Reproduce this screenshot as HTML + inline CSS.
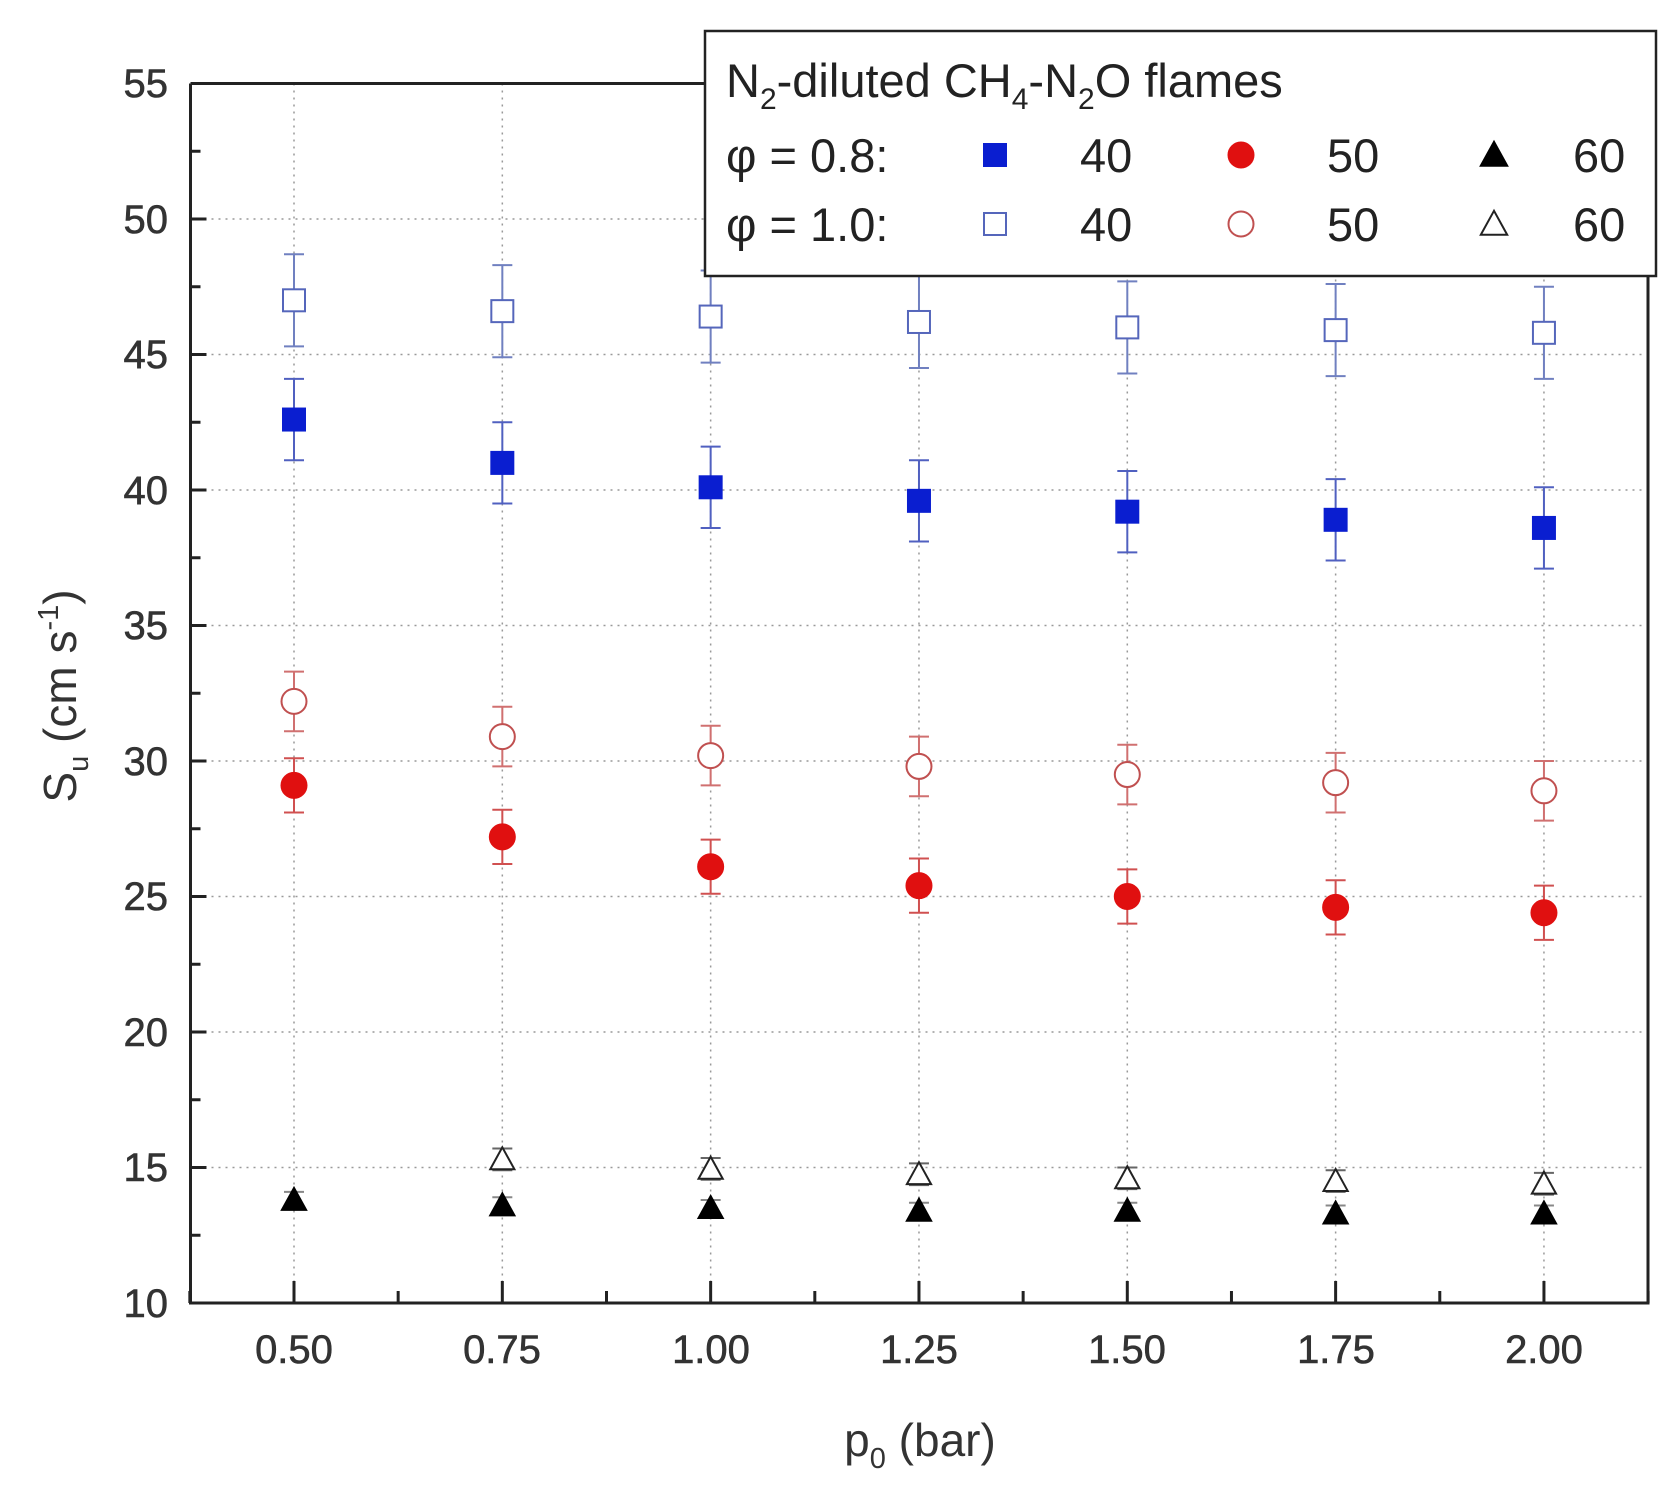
<!DOCTYPE html>
<html><head><meta charset="utf-8"><style>
html,body{margin:0;padding:0;background:#fff;}
svg{display:block;font-family:"Liberation Sans",Arial,sans-serif;}
</style></head><body>
<svg id="s" width="1678" height="1500" viewBox="0 0 1678 1500" xmlns="http://www.w3.org/2000/svg">
<rect width="1678" height="1500" fill="#fff"/>
<g id="grid" stroke="#999" stroke-width="1.5" stroke-dasharray="2,5"></g>
<g id="axes"></g>
<g id="data"></g>
<g font-size="40" fill="#333" stroke="#333" stroke-width="0.6" text-anchor="end">
<text x="168" y="97">55</text><text x="168" y="233">50</text><text x="168" y="368">45</text>
<text x="168" y="504">40</text><text x="168" y="639">35</text><text x="168" y="775">30</text>
<text x="168" y="910">25</text><text x="168" y="1046">20</text><text x="168" y="1181">15</text>
<text x="168" y="1317">10</text>
</g>
<g font-size="40" fill="#333" stroke="#333" stroke-width="0.6" text-anchor="middle">
<text x="294" y="1363">0.50</text><text x="502" y="1363">0.75</text><text x="711" y="1363">1.00</text>
<text x="919" y="1363">1.25</text><text x="1127" y="1363">1.50</text><text x="1336" y="1363">1.75</text>
<text x="1544" y="1363">2.00</text>
</g>
<text x="920" y="1456" font-size="46" fill="#333" text-anchor="middle">p<tspan font-size="29" dy="12">0</tspan><tspan dy="-12"> (bar)</tspan></text>
<text transform="translate(76,696) rotate(-90)" font-size="46" fill="#333" text-anchor="middle">S<tspan font-size="29" dy="12">u</tspan><tspan dy="-12"> (cm s</tspan><tspan font-size="29" dy="-18">-1</tspan><tspan dy="18">)</tspan></text>
<rect x="705" y="31" width="951" height="245" fill="#fff" stroke="#222" stroke-width="2.5"/>
<g font-size="47" fill="#222">
<text x="726" y="97">N<tspan font-size="30" dy="12">2</tspan><tspan dy="-12">-diluted CH</tspan><tspan font-size="30" dy="12">4</tspan><tspan dy="-12">-N</tspan><tspan font-size="30" dy="12">2</tspan><tspan dy="-12">O flames</tspan></text>
<text x="726" y="172">φ = 0.8:</text>
<text x="726" y="241">φ = 1.0:</text>
<text x="1080" y="172">40</text><text x="1327" y="172">50</text><text x="1573" y="172">60</text>
<text x="1080" y="241">40</text><text x="1327" y="241">50</text><text x="1573" y="241">60</text>
</g>
<g id="leg"></g>
</svg>
<script>
const NS="http://www.w3.org/2000/svg";
const X=v=>294+(v-0.5)*833.3, Y=v=>1303-(v-10)*27.1;
function el(p,t,a){const e=document.createElementNS(NS,t);for(const k in a)e.setAttribute(k,a[k]);document.getElementById(p).appendChild(e);return e;}
const L=190.5,R=1648,T=83.5,B=1303;
for(let v=15;v<=50;v+=5)el("grid","line",{x1:L,x2:R,y1:Y(v),y2:Y(v)});
for(let i=0;i<7;i++){const x=X(0.5+i*0.25);el("grid","line",{x1:x,x2:x,y1:T,y2:B});}
el("axes","path",{d:`M${L},${T}V${B}H${R}V${T}H${L}`,fill:"none",stroke:"#222","stroke-width":3});
for(let v=10;v<=55;v+=2.5){const y=Y(v),len=(v%5==0)?16:10;el("axes","line",{x1:L,x2:L+len,y1:y,y2:y,stroke:"#222","stroke-width":3});}
for(let v=0.375;v<=2.13;v+=0.125){const x=X(v),len=(Math.abs((v-0.5)/0.25-Math.round((v-0.5)/0.25))<1e-6)?22:12;el("axes","line",{x1:x,x2:x,y1:B,y2:B-len,stroke:"#222","stroke-width":3});}
const xs=[0.5,0.75,1,1.25,1.5,1.75,2];
function mark(g,type,x,y,fill,stroke,s){
 if(type=="sq")el(g,"rect",{x:x-s/2,y:y-s/2,width:s,height:s,fill:fill,stroke:stroke,"stroke-width":2});
 else if(type=="ci")el(g,"circle",{cx:x,cy:y,r:s/2,fill:fill,stroke:stroke,"stroke-width":2});
 else el(g,"polygon",{points:`${x},${y-s*0.55} ${x-s*0.55},${y+s*0.45} ${x+s*0.55},${y+s*0.45}`,fill:fill,stroke:stroke,"stroke-width":2});
}
const series=[
 {t:"sq",v:[47.0,46.6,46.4,46.2,46.0,45.9,45.8],e:1.7,f:"#fff",s:"#5566bb",ec:"#7080c0"},
 {t:"sq",v:[42.6,41.0,40.1,39.6,39.2,38.9,38.6],e:1.5,f:"#0a1ed0",s:"#0a1ed0",ec:"#5060c0"},
 {t:"ci",v:[32.2,30.9,30.2,29.8,29.5,29.2,28.9],e:1.1,f:"#fff",s:"#c05050",ec:"#d07070"},
 {t:"ci",v:[29.1,27.2,26.1,25.4,25.0,24.6,24.4],e:1.0,f:"#e01010",s:"#e01010",ec:"#d05050"},
 {t:"tr",v:[null,15.3,14.95,14.75,14.6,14.5,14.4],e:0.4,f:"#fff",s:"#222",ec:"#666"},
 {t:"tr",v:[13.8,13.6,13.5,13.4,13.4,13.3,13.3],e:0.3,f:"#000",s:"#000",ec:"#888"}];
for(const S of series){S.v.forEach((v,i)=>{if(v==null)return;const x=X(xs[i]),y=Y(v),y1=Y(v+S.e),y2=Y(v-S.e);
 el("data","path",{d:`M${x},${y1}V${y2}M${x-10},${y1}H${x+10}M${x-10},${y2}H${x+10}`,stroke:S.ec,"stroke-width":2,fill:"none"});
 mark("data",S.t,x,y,S.f,S.s,S.t=="ci"?25:22);});}
mark("leg","sq",995,155,"#0a1ed0","#0a1ed0",22);mark("leg","ci",1241,155,"#e01010","#e01010",25);mark("leg","tr",1494,155,"#000","#000",24);
mark("leg","sq",995,224,"#fff","#5566bb",22);mark("leg","ci",1241,224,"#fff","#c05050",25);mark("leg","tr",1494,224,"#fff","#222",24);
</script>
</body></html>
